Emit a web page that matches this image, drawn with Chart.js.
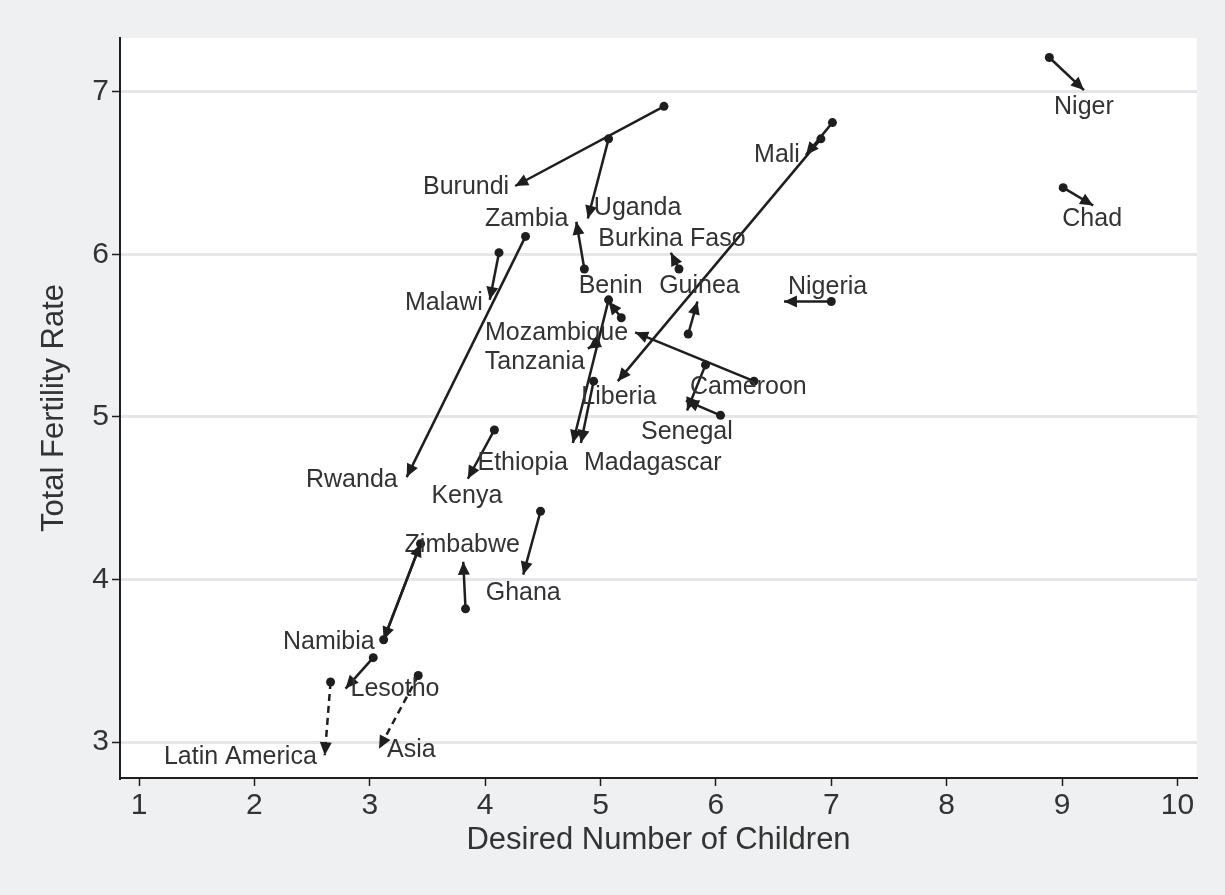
<!DOCTYPE html>
<html>
<head>
<meta charset="utf-8">
<script src="https://cdn.jsdelivr.net/npm/chart.js@4.4.1/dist/chart.umd.min.js"></script>
<style>
  html, body { margin: 0; padding: 0; background: #eff0f2; }
  canvas { display: block; }
</style>
</head>
<body>
<canvas id="chart" width="1225" height="895"></canvas>
<script>
// Desired number of children vs total fertility rate, earlier survey (dot) -> later survey (arrow)
const countries = ['Niger', 'Chad', 'Mali', 'Liberia', 'Burundi', 'Uganda', 'Zambia', 'Burkina Faso',
  'Malawi', 'Rwanda', 'Benin', 'Guinea', 'Nigeria', 'Mozambique', 'Cameroon', 'Senegal', 'Tanzania',
  'Ethiopia', 'Madagascar', 'Kenya', 'Ghana', 'Zimbabwe', 'Namibia', '', 'Lesotho', 'Latin America', 'Asia'];
const desiredStart = [8.89, 9.01, 7.01, 6.91, 5.55, 5.07, 4.86, 5.68, 4.12, 4.35, 5.18, 5.76, 7.00, 6.33,
  5.91, 6.04, 4.96, 5.07, 4.94, 4.08, 4.48, 3.83, 3.44, 3.12, 3.03, 2.66, 3.42];
const tfrStart = [7.21, 6.41, 6.81, 6.71, 6.91, 6.71, 5.91, 5.91, 6.01, 6.11, 5.61, 5.51, 5.71, 5.22,
  5.32, 5.01, 5.45, 5.72, 5.22, 4.92, 4.42, 3.82, 4.22, 3.63, 3.52, 3.37, 3.41];
const desiredEnd = [9.19, 9.27, 6.78, 5.15, 4.26, 4.89, 4.79, 5.61, 4.04, 3.32, 5.07, 5.84, 6.59, 5.30,
  5.75, 5.74, 4.89, 4.76, 4.83, 3.85, 4.33, 3.81, 3.12, 3.44, 2.79, 2.61, 3.08];
const tfrEnd = [7.01, 6.30, 6.61, 5.22, 6.42, 6.22, 6.20, 6.01, 5.72, 4.63, 5.71, 5.71, 5.71, 5.52,
  5.04, 5.10, 5.42, 4.84, 4.84, 4.62, 4.03, 4.11, 3.63, 4.22, 3.33, 2.92, 2.96];
const regions = ['Latin America', 'Asia'];

const xTicks = [1, 2, 3, 4, 5, 6, 7, 8, 9, 10];
const yTicks = [3, 4, 5, 6, 7];

// where each label sits relative to its arrow tip: [dx, dy, align]
const labelPlace = {
  'Niger': [0, 17, 'center'], 'Chad': [-1, 14, 'center'], 'Mali': [-6, 0, 'right'],
  'Liberia': [1, 16, 'center'], 'Burundi': [-6, 1, 'right'], 'Uganda': [6, -10, 'left'],
  'Zambia': [-8, -3, 'right'], 'Burkina Faso': [1, -14, 'center'], 'Malawi': [-7, 3, 'right'],
  'Rwanda': [-9, 3, 'right'], 'Benin': [2, -15, 'center'], 'Guinea': [2, -15, 'center'],
  'Nigeria': [4, -14, 'left'], 'Mozambique': [-7, 1, 'right'], 'Cameroon': [3, -23, 'left'],
  'Senegal': [1, 31, 'center'], 'Tanzania': [-3, 13, 'right'], 'Ethiopia': [-5, 20, 'right'],
  'Madagascar': [3, 20, 'left'], 'Kenya': [-1, 17, 'center'], 'Ghana': [0, 18, 'center'],
  'Zimbabwe': [-1, -17, 'center'], 'Namibia': [-9, 2, 'right'], 'Lesotho': [5, 1, 'left'],
  'Latin America': [-8, 2, 'right'], 'Asia': [8, 1, 'left']
};

const ink = '#1e1e1e';
const textColor = '#333333';
Chart.defaults.font.family = '"Liberation Sans", Arial, sans-serif';

const datasets = countries.map((name, i) => ({
  label: name,
  data: [{ x: desiredStart[i], y: tfrStart[i] }, { x: desiredEnd[i], y: tfrEnd[i] }],
  borderColor: ink,
  borderWidth: 2.5,
  borderDash: regions.includes(name) ? [7, 5] : [],
  pointRadius: [4.5, 0],
  pointBackgroundColor: ink,
  pointBorderWidth: 0,
  fill: false,
  tension: 0
}));

// background, arrowheads and labels
const arrowPlugin = {
  id: 'arrows',
  beforeDraw(chart) {
    const { ctx, chartArea: a } = chart;
    ctx.save();
    ctx.fillStyle = '#eff0f2';
    ctx.fillRect(0, 0, chart.width, chart.height);
    ctx.fillStyle = '#ffffff';
    ctx.fillRect(a.left, a.top, a.right - a.left, a.bottom - a.top);
    ctx.restore();
  },
  afterDatasetsDraw(chart) {
    const ctx = chart.ctx;
    ctx.save();
    chart.data.datasets.forEach((ds, i) => {
      const pts = chart.getDatasetMeta(i).data;
      const p0 = pts[0], p1 = pts[1];
      const ang = Math.atan2(p1.y - p0.y, p1.x - p0.x);
      const len = 13, half = 6;
      const bx = p1.x - len * Math.cos(ang), by = p1.y - len * Math.sin(ang);
      ctx.fillStyle = ink;
      ctx.beginPath();
      ctx.moveTo(p1.x, p1.y);
      ctx.lineTo(bx + half * Math.sin(ang), by - half * Math.cos(ang));
      ctx.lineTo(bx - half * Math.sin(ang), by + half * Math.cos(ang));
      ctx.closePath();
      ctx.fill();

      const place = labelPlace[ds.label];
      if (!place) return;
      ctx.font = '25px "Liberation Sans", Arial, sans-serif';
      ctx.fillStyle = textColor;
      ctx.textAlign = place[2];
      ctx.textBaseline = 'middle';
      ctx.fillText(ds.label, p1.x + place[0], p1.y + place[1]);
    });
    ctx.restore();
  }
};

new Chart(document.getElementById('chart'), {
  type: 'line',
  data: { datasets },
  options: {
    responsive: false,
    animation: false,
    layout: { padding: { top: 38, right: 28, left: 0, bottom: 0 } },
    plugins: { legend: { display: false }, tooltip: { enabled: false } },
    scales: {
      x: {
        type: 'linear',
        min: 0.835,
        max: 10.17,
        afterBuildTicks: s => { s.ticks = xTicks.map(v => ({ value: v })); },
        afterFit: s => { s.height = 117; },
        grid: { drawOnChartArea: false, drawTicks: true, tickLength: 8, tickColor: ink, tickWidth: 1.5 },
        border: { display: true, color: ink, width: 2 },
        ticks: { autoSkip: false, maxRotation: 0, padding: 2, color: textColor, font: { size: 30 } },
        title: {
          display: true, text: 'Desired Number of Children', color: textColor,
          font: { size: 31 }, padding: { top: 0, bottom: 36 }
        }
      },
      y: {
        type: 'linear',
        min: 2.78,
        max: 7.33,
        afterBuildTicks: s => { s.ticks = yTicks.map(v => ({ value: v })); },
        afterFit: s => { s.width = 120; },
        grid: { color: '#e4e6e9', lineWidth: 3, drawTicks: true, tickLength: 8, tickColor: ink, tickWidth: 1.5 },
        border: { display: true, color: ink, width: 2 },
        ticks: { autoSkip: false, padding: 3, color: textColor, font: { size: 30 } },
        title: {
          display: true, text: 'Total Fertility Rate', color: textColor,
          font: { size: 31 }, padding: { top: 36, bottom: 0 }
        }
      }
    }
  },
  plugins: [arrowPlugin]
});
</script>
</body>
</html>
